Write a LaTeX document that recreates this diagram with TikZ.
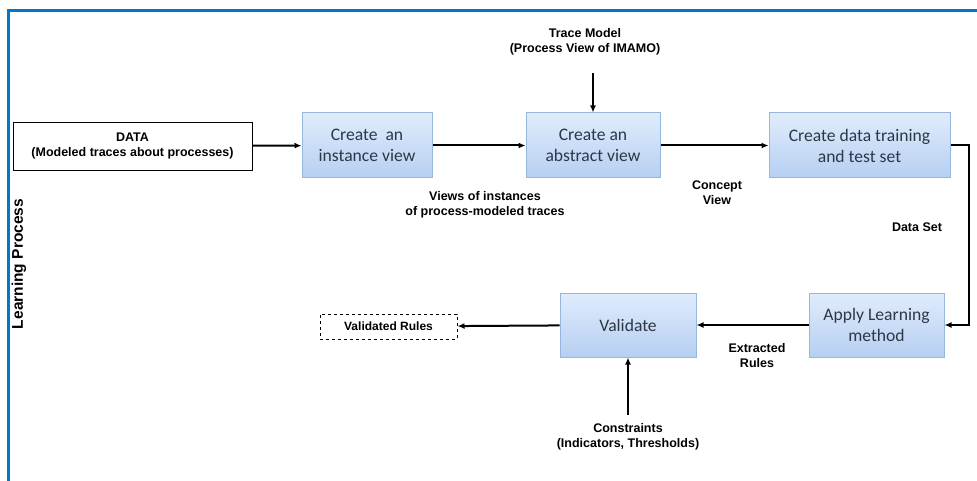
\documentclass[tikz,border=0pt]{standalone}
\usepackage{fontspec}
\setmainfont{Carlito}
\newfontfamily\lblfont{Liberation Sans}
\usetikzlibrary{arrows.meta}
\definecolor{framblue}{RGB}{0,118,204}
\definecolor{boxtop}{RGB}{224,236,252}
\definecolor{boxbot}{RGB}{182,207,242}
\definecolor{boxline}{RGB}{150,182,222}
\definecolor{boxtext}{RGB}{45,55,70}
\tikzset{
  stepbox/.style={draw=boxline, line width=1pt, top color=boxtop, bottom color=boxbot,
    text=boxtext, align=center, inner sep=0pt, font=\fontsize{17.6}{21}\selectfont},
  lbl/.style={align=center, inner sep=0pt, font=\lblfont\bfseries\fontsize{12.5}{15}\selectfont},
  flow/.style={line width=2pt, -{Latex[length=7pt,width=6pt]}}
}
\begin{document}
\begin{tikzpicture}[x=1pt,y=1pt,yscale=-1,xscale=1]
\useasboundingbox (0,0) rectangle (977,481);

%Frame
\draw [framblue, line width=3pt] (8,481) -- (8,11) -- (977,11);

% Side title
\node (title) [lbl, rotate=90, font=\lblfont\bfseries\fontsize{15.5}{17}\selectfont] at (19,264) {Learning Process};

%Boxes
\node (data) [draw=black, line width=0.9pt, minimum width=239, minimum height=48, lbl] at (132.5,146) {DATA\\(Modeled traces about processes)};
\node (inst) [stepbox, minimum width=130, minimum height=65] at (367,145.5) {Create~ an\\instance view};
\node (abst) [stepbox, minimum width=134, minimum height=65] at (593,145.5) {Create an\\abstract view};
\node (train) [stepbox, minimum width=181, minimum height=65] at (859.5,145.5) {Create data training\\and test set};
\node (apply) [stepbox, minimum width=135, minimum height=64] at (876.5,325) {Apply Learning\\method};
\node (valid) [stepbox, minimum width=136, minimum height=64] at (628,325) {Validate};
\node (vrules) [draw=black, dashed, line width=1pt, minimum width=137, minimum height=25, lbl, font=\lblfont\bfseries\fontsize{12}{14}\selectfont] at (388.5,326.5) {Validated Rules};

% Text Node
\node (trace) [lbl] at (585,42) {Trace Model\\(Process View of IMAMO)};
\node (views) [lbl] at (485,205) {Views of instances\\of process-modeled traces};
\node (concept) [lbl] at (717,193) {Concept\\View};
\node (dset) [lbl] at (917,227) {Data Set};
\node (extr) [lbl] at (757,356) {Extracted\\Rules};
\node (constr) [lbl] at (628,437) {Constraints\\(Indicators, Thresholds)};

\coordinate (tracein) at (593,73);
\coordinate (constrout) at (628,415);
\coordinate (turn) at (969,145.5);

%Connectors
\draw [flow] (data) -- (inst);
\draw [flow] (inst) -- (abst);
\draw [flow] (abst) -- (train);
\draw [flow] (tracein) -- (abst);
\draw [flow] (train.east) -- (turn) |- (apply.east);
\draw [flow] (apply) -- (valid);
\draw [flow] (valid) -- (vrules);
\draw [flow] (constrout) -- (valid);

\end{tikzpicture}
\end{document}
